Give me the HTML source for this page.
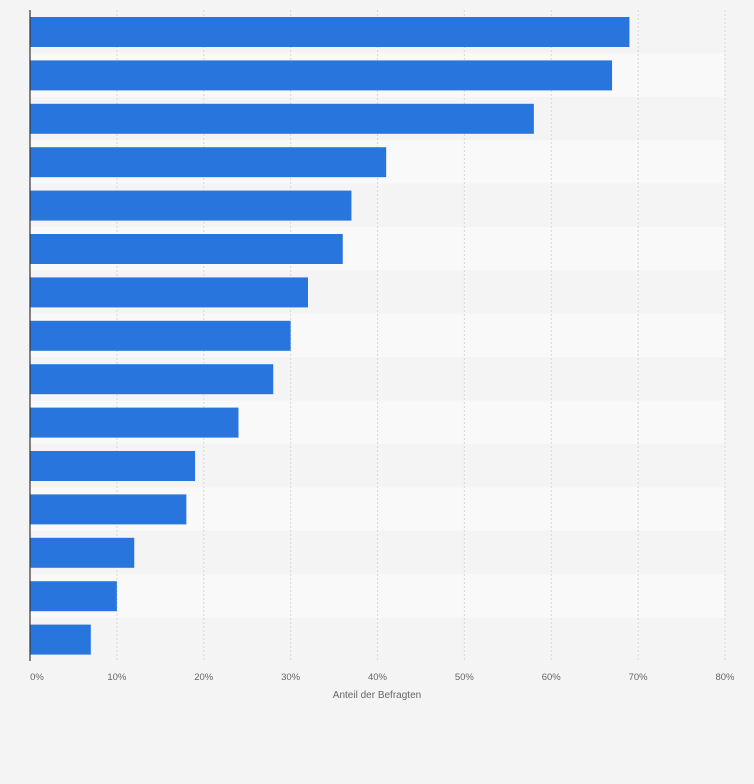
<!DOCTYPE html>
<html><head><meta charset="utf-8"><style>
body{margin:0;background:#f4f4f4;font-family:"Liberation Sans",sans-serif}
</style></head><body>
<svg id="chart" width="754" height="779" xmlns="http://www.w3.org/2000/svg"></svg>
<script>
const categories=["C1","C2","C3","C4","C5","C6","C7","C8","C9","C10","C11","C12","C13","C14","C15"];
const values=[69,67,58,41,37,36,32,30,28,24,19,18,12,10,7];
const ticks=[0,10,20,30,40,50,60,70,80];
const tickLabels=["0%","10%","20%","30%","40%","50%","60%","70%","80%"];
const NS="http://www.w3.org/2000/svg";
const svg=document.getElementById('chart');
const x0=30,x1=725,yTop=10,yBot=661;
const xs=v=>x0+(v/80)*(x1-x0);
const rowH=(yBot-yTop)/categories.length;
function mk(t,a,p){const e=document.createElementNS(NS,t);for(const k in a)e.setAttribute(k,a[k]);(p||svg).appendChild(e);return e;}
categories.forEach((c,i)=>{
 const r=mk('rect',{x:x0,y:yTop+i*rowH,width:x1-x0,height:rowH,fill:i%2?'#f9f9f9':'#f4f4f4'});
 
 
});
ticks.forEach((t,i)=>{
 const l=mk('line',{x1:xs(t),x2:xs(t),y1:yTop,y2:yBot,stroke:'#d8d8d8','stroke-dasharray':'2,2'});
 
 
 const tx=mk('text',{x:xs(t)+(i==0?7:0),y:680,'text-anchor':'middle','font-size':'9.5',fill:'#666'});
 tx.textContent=tickLabels[i];
 
 
});
values.forEach((v,i)=>{
 const b=mk('rect',{x:x0,y:yTop+i*rowH+7,width:xs(v)-x0,height:30,fill:'#2876dd'});
 
 
});
const ax=mk('line',{x1:x0,x2:x0,y1:yTop,y2:yBot,stroke:'#333','stroke-width':1.2});


const tt=mk('text',{x:377,y:698,'text-anchor':'middle','font-size':'10',fill:'#666'});
tt.textContent='Anteil der Befragten';


</script>
</body></html>
